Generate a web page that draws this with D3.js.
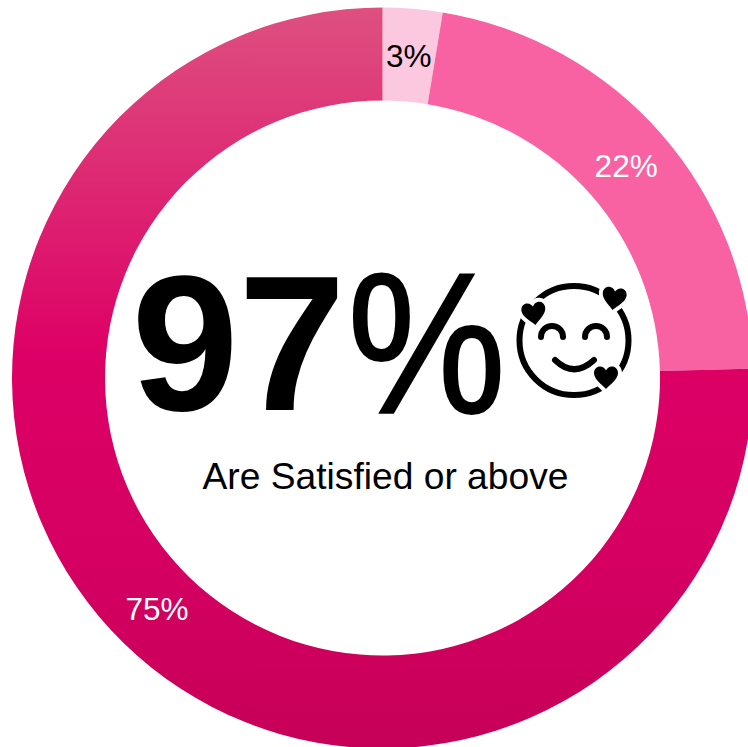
<!DOCTYPE html>
<html>
<head>
<meta charset="utf-8">
<script src="https://cdn.jsdelivr.net/npm/d3@7/dist/d3.min.js"></script>
<style>
html, body { margin: 0; padding: 0; background: #fff; overflow: hidden; }
svg { display: block; font-family: "Liberation Sans", Arial, sans-serif; }
</style>
</head>
<body>
<svg id="chart" width="748" height="747"></svg>
<script>
// Satisfaction shares, clockwise from twelve o'clock
const categories = ["Very satisfied", "Satisfied", "Not satisfied"];
const shares = [2.6, 22.0, 75.4];
const sliceFills = ["#fcc8e0", "#f862a3", "url(#ringFade)"];
const labelFills = ["#000", "#fff", "#fff"];
const headline = 97;
const caption = "Are Satisfied or above";

const cx = 382.5, cy = 378, outer = 370.5, inner = 277.5;
const svg = d3.select("#chart");

// The largest slice fades from a dusty rose at the top to deep crimson below
const fade = svg.append("defs").append("linearGradient")
  .attr("id", "ringFade").attr("gradientUnits", "userSpaceOnUse")
  .attr("x1", 0).attr("x2", 0).attr("y1", -outer).attr("y2", outer);
[[0, "#de5080"], [0.47, "#dd0066"], [0.75, "#d50062"], [1, "#c60058"]]
  .forEach(([o, c]) => fade.append("stop").attr("offset", o).attr("stop-color", c));

const pie = d3.pie().sort(null).value(d => d)(shares);
const arc = d3.arc().innerRadius(inner).outerRadius(outer);
const ring = svg.append("g").attr("transform", `translate(${cx},${cy})`);

ring.selectAll("path").data(pie).join("path")
  .attr("d", arc)
  .attr("fill", (d, i) => sliceFills[i]);

// Slice labels show the rounded share at the middle of each slice
const percent = v => d3.format(".0f")(v) + "%";
const labelArc = d3.arc().innerRadius(323).outerRadius(323);
ring.selectAll("text").data(pie).join("text")
  .attr("transform", d => `translate(${labelArc.centroid(d)})`)
  .attr("text-anchor", "middle")
  .attr("dominant-baseline", "central")
  .attr("font-size", 31.5)
  .attr("fill", (d, i) => labelFills[i])
  .text(d => percent(d.data));

// Headline figure with a bold number and a lighter percent sign
svg.append("text")
  .attr("x", 131.5).attr("y", 410)
  .attr("font-size", 192.5)
  .attr("font-weight", 700)
  .text(headline);
svg.append("text")
  .attr("transform", "translate(347.5,413) scale(0.89,1)")
  .attr("font-size", 200)
  .attr("stroke", "#000")
  .attr("stroke-width", 2)
  .text("%");

svg.append("text")
  .attr("x", 385.5).attr("y", 488.5)
  .attr("text-anchor", "middle")
  .attr("font-size", 37.2)
  .text(caption);

// Smiling face with hearts
const face = svg.append("g").attr("transform", "translate(574,340.5)");
face.append("circle").attr("r", 54.5)
  .attr("fill", "none").attr("stroke", "#000").attr("stroke-width", 6);

const features = face.append("g")
  .attr("fill", "none").attr("stroke", "#000")
  .attr("stroke-width", 6).attr("stroke-linecap", "round");
features.append("path").attr("d", "M-33,-3.5 A11,11 0 0 1 -11,-3.5");
features.append("path").attr("d", "M11,-3.5 A11,11 0 0 1 33,-3.5");
features.append("path").attr("d", "M-19,19.5 Q0,38 20,19.5");

const heart = "M0,11 C-4,6.5 -12,1.5 -12,-5 C-12,-9 -9,-11.5 -6,-11.5 C-3,-11.5 -1,-9.5 0,-7.5 C1,-9.5 3,-11.5 6,-11.5 C9,-11.5 12,-9 12,-5 C12,1.5 4,6.5 0,11 Z";
[[-40, -26.5, -8], [40, -41.5, 8], [32, 37.5, 0]].forEach(([x, y, r]) => {
  face.append("path").attr("d", heart)
    .attr("transform", `translate(${x},${y}) rotate(${r})`)
    .attr("fill", "#000").attr("stroke", "#fff").attr("stroke-width", 8)
    .attr("paint-order", "stroke");
});
</script>
</body>
</html>
